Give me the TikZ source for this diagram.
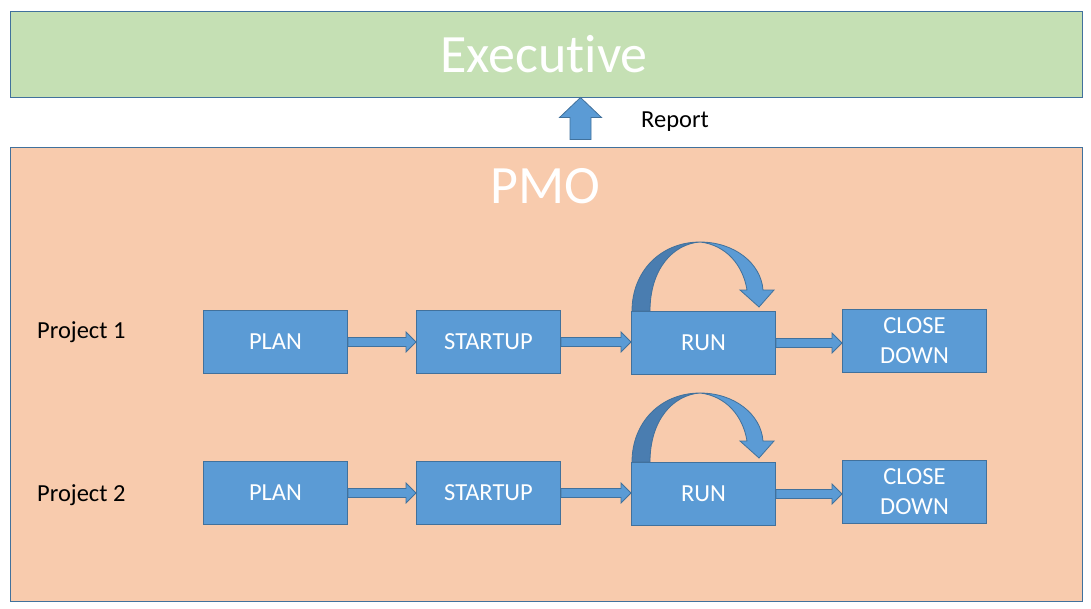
\documentclass[tikz,border=0pt]{standalone}
\usepackage{fontspec}
\setmainfont{Carlito}[Ligatures=NoCommon]
\usetikzlibrary{calc}
\definecolor{boxfill}{HTML}{5B9BD5}
\definecolor{edge}{HTML}{41719C}
\definecolor{execfill}{HTML}{C5E0B4}
\definecolor{pmofill}{HTML}{F8CBAD}
\definecolor{darkband}{HTML}{4A7DB0}
\tikzset{
  stagebox/.style={draw=edge, fill=boxfill, line width=1pt, minimum width=144pt, minimum height=63pt,
    inner sep=0pt, anchor=north west, text=white, align=center, font=\fontsize{24.5}{30}\selectfont},
  bigbox/.style={draw=edge, fill=#1, line width=1pt, anchor=north west, inner sep=0pt},
  bigtext/.style={text=white, font=\fontsize{54}{60}\selectfont, anchor=base, inner sep=0pt},
  plaintext/.style={text=black, font=\fontsize{24.5}{30}\selectfont, inner sep=0pt},
  arrowshape/.style={draw=edge, fill=boxfill, line width=0.8pt, line join=miter}
}
\newcommand{\blockarrow}[2]{%
  \path let \p1=(#1.east), \p2=(#2.west) in
    [arrowshape] (\x1,\y1+4.5pt) -- (\x2-10pt,\y1+4.5pt) -- (\x2-10pt,\y1+10pt) -- (\x2,\y1)
      -- (\x2-10pt,\y1-10pt) -- (\x2-10pt,\y1-4.5pt) -- (\x1,\y1-4.5pt) -- cycle;}
\newcommand{\looparrow}[1]{%
  \begin{scope}[shift={(#1.north west)}]
    \path[arrowshape] (69,-69) .. controls (103,-69) and (130,-48) .. (132,-21) -- (143,-21) -- (128,-4)
      -- (109,-21) -- (116,-21) .. controls (112,-46) and (95,-66) .. (69,-69) -- cycle;
    \path[draw=edge, fill=darkband, line width=0.8pt] (1,0) .. controls (1,-40) and (30,-69) .. (69,-69)
      .. controls (42,-67) and (19,-42) .. (19,0) -- cycle;
  \end{scope}}
\begin{document}
\begin{tikzpicture}[x=1pt,y=-1pt]
\useasboundingbox (0,0) rectangle (1091,608);
\fill[white] (0,0) rectangle (1091,608);
% big boxes
\node[bigbox=execfill, minimum width=1072pt, minimum height=86.5pt] (exec) at (9.5,10.5) {};
\node[bigbox=pmofill, minimum width=1072pt, minimum height=454pt] (pmo) at (9.5,146.5) {};
\node[bigtext] (exectext) at (544,72) {Execut\kern0pt ive};
\node[bigtext] (pmotext) at (545,203) {PMO};
% report arrow
\coordinate (uptip) at (580.5,97.5);
\path[arrowshape] (uptip) -- ($(uptip)+(21,20)$) -- ($(uptip)+(10.5,20)$) -- ($(uptip)+(10.5,42)$)
  -- ($(uptip)+(-10.5,42)$) -- ($(uptip)+(-10.5,20)$) -- ($(uptip)+(-21,20)$) -- cycle;
\node[plaintext, anchor=west] (report) at (641,122) {Report};
% labels
\node[plaintext, anchor=west] (p1) at (37,332) {Project 1};
\node[plaintext, anchor=west] (p2) at (37,495) {Project 2};
% row 1
\node[stagebox] (plan1) at (203,310) {PLAN};
\node[stagebox] (start1) at (416,310) {STARTUP};
\node[stagebox] (run1) at (631,311) {RUN};
\node[stagebox] (close1) at (842,309) {CLOSE\\DOWN};
% row 2
\node[stagebox] (plan2) at (203,461) {PLAN};
\node[stagebox] (start2) at (416,461) {STARTUP};
\node[stagebox] (run2) at (631,462) {RUN};
\node[stagebox] (close2) at (842,460) {CLOSE\\DOWN};
% arrows
\blockarrow{plan1}{start1}
\blockarrow{start1}{run1}
\blockarrow{run1}{close1}
\blockarrow{plan2}{start2}
\blockarrow{start2}{run2}
\blockarrow{run2}{close2}
\looparrow{run1}
\looparrow{run2}
\end{tikzpicture}
\end{document}
